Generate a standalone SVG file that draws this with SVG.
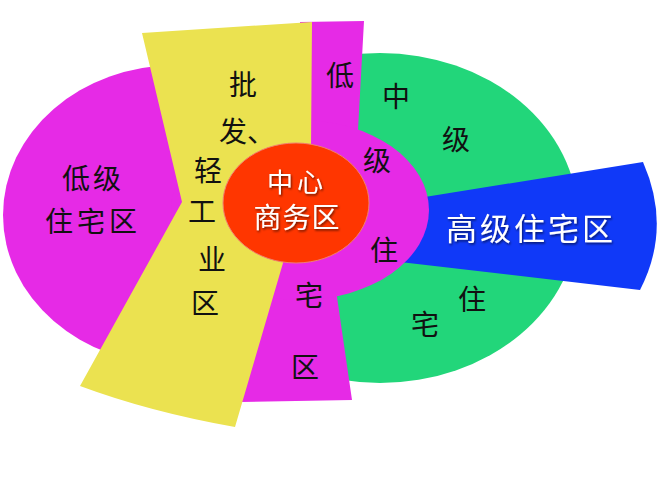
<svg xmlns="http://www.w3.org/2000/svg" width="669" height="500" viewBox="0 0 669 500">
<style>
.mg{fill:#e62ae6}
.ye{fill:#ebe250}
.gr{fill:#22d67a}
.bl{fill:#1039f8}
.rd{fill:#ff3600;stroke:#f08070;stroke-width:1}
.k{font-family:"Noto Sans CJK SC","Noto Sans CJK JP",sans-serif;font-size:28px;fill:#111;text-anchor:middle}
.w{font-family:"Noto Sans CJK SC","Noto Sans CJK JP",sans-serif;fill:#fff;text-anchor:middle}
</style>
<defs>
<filter id="sh" x="-10%" y="-10%" width="120%" height="130%"><feDropShadow dx="1" dy="1.5" stdDeviation="0.8" flood-color="#000" flood-opacity="0.6"/></filter>
</defs>
<rect width="669" height="500" fill="#fff"/>
<g id="low-left">
<ellipse class="mg" cx="176" cy="215" rx="173" ry="150"/>
</g>
<g id="middle">
<ellipse class="gr" cx="380" cy="218" rx="198" ry="165"/>
</g>
<g id="high">
<path class="bl" d="M400,201 L643,162 Q672,228 640,290 L400,262 Z"/>
</g>
<g id="low-band">
<path class="mg" d="M300,22 L364,21 L358,130 L330,200 L337,297 L352,400 L240,402 L300,150 Z"/>
<ellipse class="mg" cx="300" cy="210" rx="129" ry="90"/>
</g>
<g id="industry">
<path class="ye" d="M142,33 L312,22 L311,150 L283,263 L235,427 Q150,412 80,386 L182,202 Z"/>
</g>
<g id="cbd">
<ellipse class="rd" cx="296" cy="203" rx="73" ry="60"/>
</g>
<g id="labels">
<text class="k" x="93" y="189" font-size="30" letter-spacing="3">低级</text>
<text class="k" x="93" y="232" font-size="30" letter-spacing="4">住宅区</text>
<text class="k" x="243" y="95">批</text>
<text class="k" x="247" y="142">发、</text>
<text class="k" x="208" y="181">轻</text>
<text class="k" x="202" y="222">工</text>
<text class="k" x="212" y="270">业</text>
<text class="k" x="205" y="314">区</text>
<text class="k" x="340" y="86">低</text>
<text class="k" x="396" y="107">中</text>
<text class="k" x="456" y="150">级</text>
<text class="k" x="377" y="171">级</text>
<text class="k" x="384" y="261">住</text>
<text class="k" x="309" y="306">宅</text>
<text class="k" x="305" y="378">区</text>
<text class="k" x="472" y="310">住</text>
<text class="k" x="425" y="335">宅</text>
<text class="w" x="297" y="192" font-size="26" letter-spacing="4" filter="url(#sh)">中心</text>
<text class="w" x="297" y="228" font-size="28" letter-spacing="1" filter="url(#sh)">商务区</text>
<text class="w" x="531" y="240" font-size="31" letter-spacing="3" filter="url(#sh)">高级住宅区</text>
</g>
</svg>
